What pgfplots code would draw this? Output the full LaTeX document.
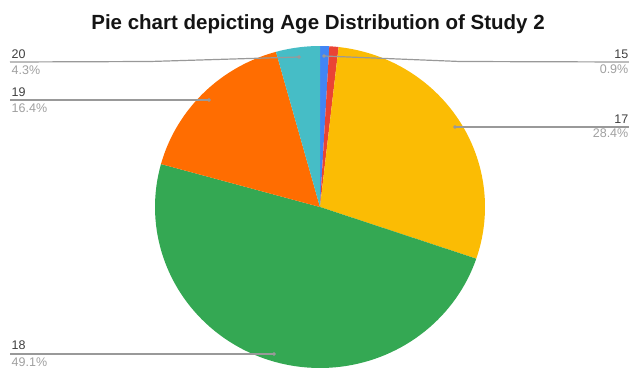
\documentclass[border=0pt]{standalone}
\usepackage{pgfplots}
\pgfplotsset{compat=1.18}
\usepackage{fontspec}
\setmainfont{Liberation Sans}
\definecolor{cblue}{HTML}{4285F4}
\definecolor{cred}{HTML}{EA4335}
\definecolor{cyellow}{HTML}{FBBC04}
\definecolor{cgreen}{HTML}{34A853}
\definecolor{corange}{HTML}{FF6D01}
\definecolor{cteal}{HTML}{46BDC6}
\definecolor{labdark}{HTML}{404040}
\definecolor{lablight}{HTML}{A0A0A0}
\definecolor{leader}{HTML}{999999}
% slice: start percent, percent, colour  (clockwise from 12 o'clock)
\newcommand{\slice}[3]{%
  \addplot[draw=none, fill=#3, domain={(#1)*3.6}:{(#1+#2)*3.6}, samples=90]
    ({320+165*sin(x)},{207-161*cos(x)}) -- (320,207) -- cycle;}
\begin{document}
\begin{tikzpicture}
\begin{axis}[
  scale only axis, width=629pt, height=367pt,
  xmin=0, xmax=629, ymin=0, ymax=367, y dir=reverse,
  hide axis, clip=true]
% age: 15 0.9% | 16 0.9% | 17 28.4% | 18 49.1% | 19 16.4% | 20 4.3%
\slice{0}{0.9}{cblue}
\slice{0.9}{0.9}{cred}
\slice{1.8}{28.4}{cyellow}
\slice{30.2}{49.1}{cgreen}
\slice{79.3}{16.4}{corange}
\slice{95.7}{4.3}{cteal}
% leader lines
\addplot[leader, line width=1.2pt] coordinates {(299,57) (150,61.5) (10,62)};
\addplot[leader, line width=1.2pt] coordinates {(209,100) (10,100)};
\addplot[leader, line width=1.2pt] coordinates {(274,354) (10,354)};
\addplot[leader, line width=1.2pt] coordinates {(324,56) (460,61.5) (629,62)};
\addplot[leader, line width=1.2pt] coordinates {(455,127) (629,127)};
\addplot[only marks, mark=*, mark size=1.6pt, draw=leader, fill=leader]
  coordinates {(299,57) (209,100) (274,354) (324,56) (455,127)};
% labels
\begin{scope}[every node/.style={font=\fontsize{12.5}{12.5}\selectfont, inner sep=0pt}]
\node[anchor=base west, text=labdark] at (axis cs:11.5,58) {20};
\node[anchor=base west, text=lablight] at (axis cs:11.5,74) {4.3\%};
\node[anchor=base west, text=labdark] at (axis cs:11.5,96.7) {19};
\node[anchor=base west, text=lablight] at (axis cs:11.5,112.7) {16.4\%};
\node[anchor=base west, text=labdark] at (axis cs:11.5,349.3) {18};
\node[anchor=base west, text=lablight] at (axis cs:11.5,366) {49.1\%};
\node[anchor=base east, text=labdark] at (axis cs:628.5,58.3) {15};
\node[anchor=base east, text=lablight] at (axis cs:628.5,73.3) {0.9\%};
\node[anchor=base east, text=labdark] at (axis cs:628.5,123.3) {17};
\node[anchor=base east, text=lablight] at (axis cs:628.5,137.7) {28.4\%};
\end{scope}
\node[anchor=base, inner sep=0pt, text=black!92,
  font=\fontsize{20.5}{21}\selectfont\bfseries] at (axis cs:318,29.5)
  {Pie chart depicting Age Distribution of Study 2};
\end{axis}
\pgfresetboundingbox
\path (current axis.south west) rectangle (current axis.north east);
\end{tikzpicture}
\end{document}
